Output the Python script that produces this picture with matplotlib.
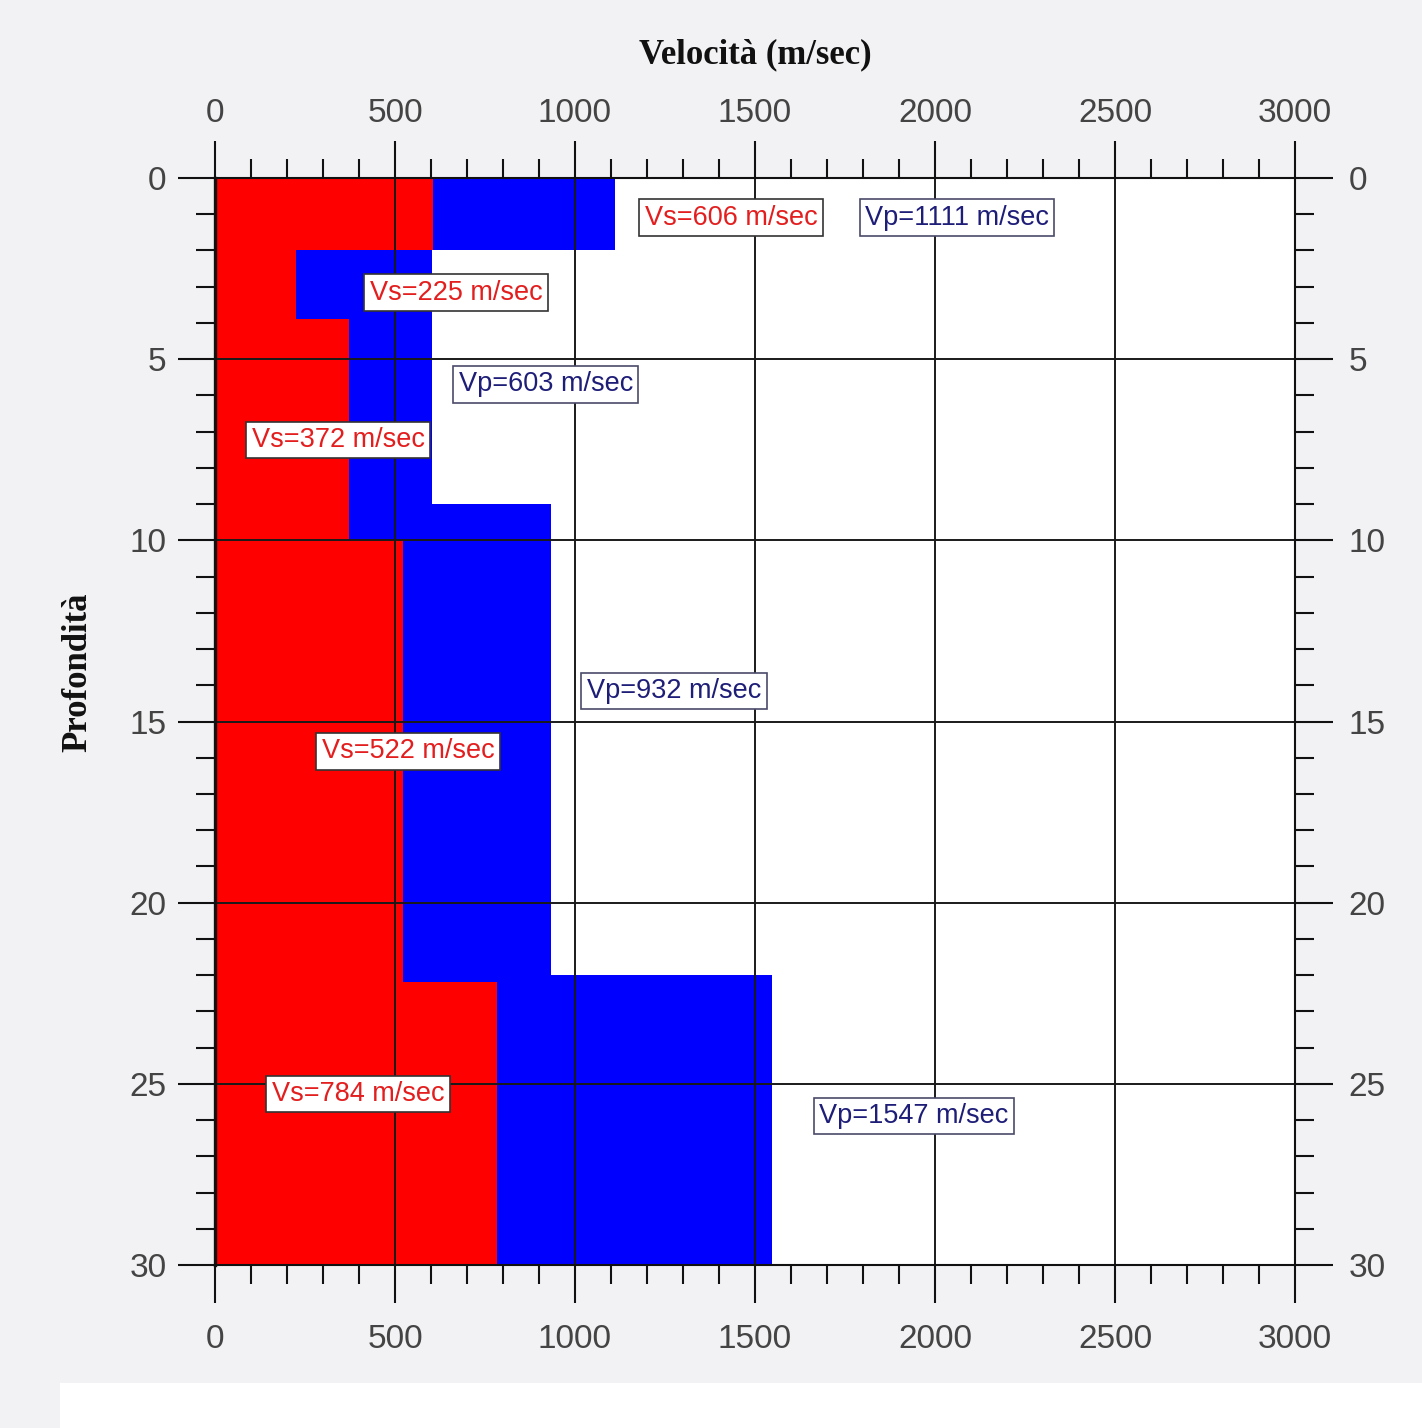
import matplotlib
matplotlib.use("Agg")
import matplotlib.pyplot as plt
import matplotlib.transforms as mtransforms
from matplotlib.ticker import MultipleLocator
from matplotlib.patches import Rectangle

# ---- data ----
vp_tops = [0, 2, 9, 22]
vp_bottoms = [2, 9, 22, 30]
vp_values = [1111, 603, 932, 1547]

vs_tops = [0, 2, 3.9, 10, 22.2]
vs_bottoms = [2, 3.9, 10, 22.2, 30]
vs_values = [606, 225, 372, 522, 784]

vs_labels = ["Vs=606 m/sec", "Vs=225 m/sec", "Vs=372 m/sec", "Vs=522 m/sec", "Vs=784 m/sec"]
vp_labels = ["Vp=1111 m/sec", "Vp=603 m/sec", "Vp=932 m/sec", "Vp=1547 m/sec"]

# label anchor positions (layout)
vs_label_pos = [(1433, 1.1), (669, 3.17), (342, 7.23), (536, 15.82), (397, 25.28)]
vp_label_pos = [(2061, 1.1), (919, 5.69), (1275, 14.16), (1942, 25.89)]

x_ticks = [0, 500, 1000, 1500, 2000, 2500, 3000]
y_ticks = [0, 5, 10, 15, 20, 25, 30]

fig = plt.figure(figsize=(14.22, 14.28), dpi=100, facecolor="#f2f2f4")
fig.patches.append(Rectangle((60/1422, 0), 1, 45/1428, transform=fig.transFigure,
                             facecolor="white", edgecolor="none", zorder=0))
ax = fig.add_axes([215/1422, 1-1265/1428, (1295-215)/1422, (1265-178)/1428])
ax.set_facecolor("white")

ax.barh(vp_tops, vp_values,
        height=[b - t for t, b in zip(vp_tops, vp_bottoms)],
        left=0, align="edge", color="#0000ff", edgecolor="none", zorder=1)
ax.barh(vs_tops, vs_values,
        height=[b - t for t, b in zip(vs_tops, vs_bottoms)],
        left=0, align="edge", color="#ff0000", edgecolor="none", zorder=2)

ax.set_xlim(0, 3000)
ax.set_ylim(30, 0)
ax.set_xticks(x_ticks)
ax.set_yticks(y_ticks)
ax.xaxis.set_minor_locator(MultipleLocator(100))
ax.yaxis.set_minor_locator(MultipleLocator(1))

ax.grid(True, which="major", color="#1a1a1a", linewidth=1.4, zorder=3)
ax.set_axisbelow(False)

for s in ax.spines.values():
    s.set_color("#111111")
    s.set_linewidth(1.5)
    s.set_zorder(4)
ax.spines["left"].set_linewidth(2.4)

ax.tick_params(which="both", direction="out", top=True, bottom=True, left=True, right=True,
               labeltop=True, labelbottom=True, labelleft=True, labelright=True,
               color="#111111", width=1.5)
ax.tick_params(which="major", length=27, labelsize=24, labelcolor="#444444", pad=8)
ax.tick_params(which="minor", length=14)

for lbl in ax.get_xticklabels() + ax.get_yticklabels():
    lbl.set_family("Liberation Sans")

# small offsets of bottom and right tick labels to match the reference
offset_b = mtransforms.ScaledTranslation(0, -10/100, fig.dpi_scale_trans)
for t in ax.xaxis.get_major_ticks():
    t.label1.set_transform(t.label1.get_transform() + offset_b)
offset_r = mtransforms.ScaledTranslation(5/100, 0, fig.dpi_scale_trans)
for t in ax.yaxis.get_major_ticks():
    t.label2.set_transform(t.label2.get_transform() + offset_r)

fig.text((637+873)/2/1422, 1-55/1428, "Velocità (m/sec)", ha="center", va="center",
         family="Liberation Serif", fontweight="bold", fontsize=25, color="#111111")
fig.text(78/1422, 1-672/1428, "Profondità", ha="center", va="center", rotation=90,
         family="Liberation Serif", fontweight="bold", fontsize=25, color="#111111")

for txt, (x, y) in zip(vs_labels, vs_label_pos):
    ax.text(x, y, txt, ha="center", va="center", fontsize=19.5, color="#e31e1e",
            family="Liberation Sans", zorder=6,
            bbox=dict(boxstyle="square,pad=0.2", facecolor="white", edgecolor="#333333", linewidth=1.2))
for txt, (x, y) in zip(vp_labels, vp_label_pos):
    ax.text(x, y, txt, ha="center", va="center", fontsize=19.5, color="#1e1e78",
            family="Liberation Sans", zorder=6,
            bbox=dict(boxstyle="square,pad=0.2", facecolor="white", edgecolor="#4a4a6a", linewidth=1.2))

fig.savefig("out.png", dpi=100, facecolor=fig.get_facecolor())
